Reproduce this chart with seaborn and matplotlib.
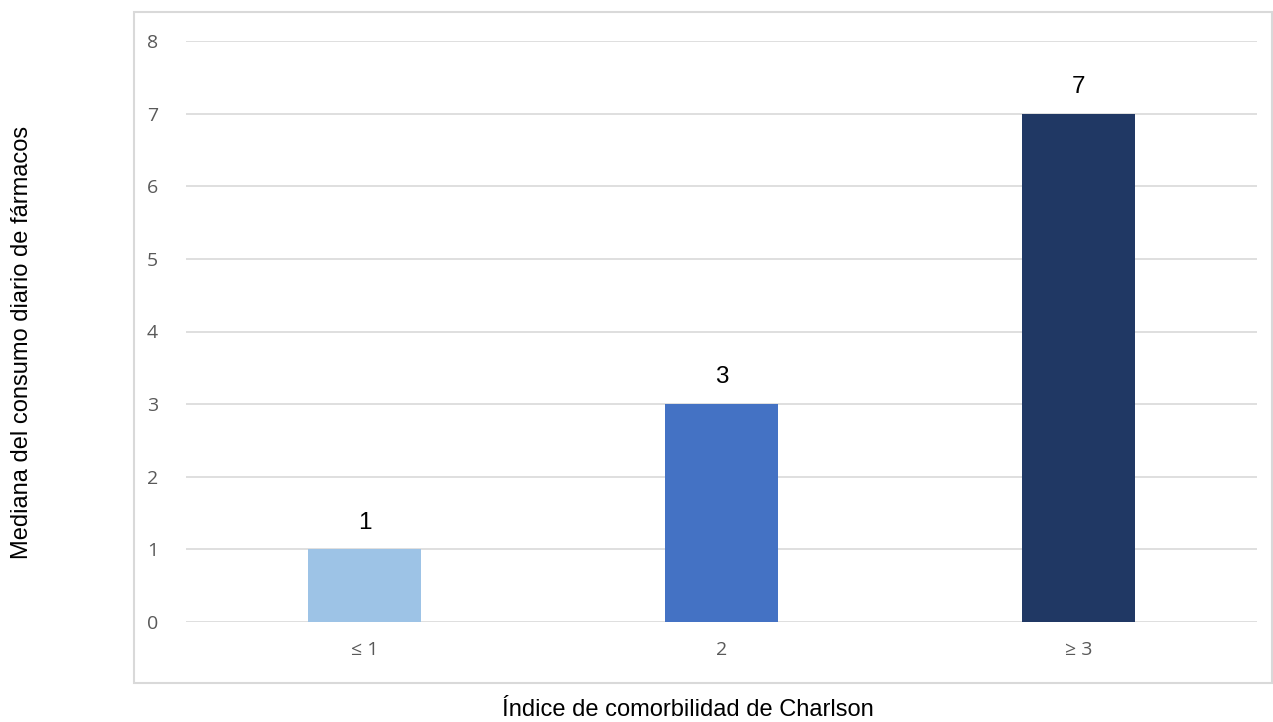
import matplotlib
matplotlib.use("Agg")
import matplotlib.pyplot as plt
import matplotlib.patheffects as pe
from matplotlib.patches import Rectangle
import seaborn as sns
import pandas as pd

categorias = ["≤ 1", "2", "≥ 3"]
medianas = [1, 3, 7]
colores = ["#9DC3E6", "#4472C4", "#203864"]
ticks_y = [0, 1, 2, 3, 4, 5, 6, 7, 8]

sns.set_theme(style="white")
plt.rcParams["font.family"] = ["Liberation Sans", "DejaVu Sans"]

W, H = 1273, 722
fig = plt.figure(figsize=(W / 100, H / 100), dpi=100)
ax = fig.add_axes([186 / W, 1 - 622 / H, (1257 - 186) / W, (622 - 41) / H])

df = pd.DataFrame({"cat": categorias, "val": medianas})
sns.barplot(data=df, x="cat", y="val", hue="cat", palette=colores,
            width=0.314, legend=False, ax=ax, zorder=3, saturation=1,
            linewidth=0, edgecolor="none")

# soft shadow on the tallest bar
bars = ax.patches
bars[-1].set_path_effects([
    pe.SimplePatchShadow(offset=(0, -1.5), shadow_rgbFace="#000000", alpha=0.35),
    pe.Normal(),
])

ax.set_ylim(0, 8)
ax.set_xlim(-0.5, 2.5)
ax.set_yticks(ticks_y)
ax.yaxis.grid(True, color="#D9D9D9", linewidth=1.2, zorder=0)
ax.xaxis.grid(False)
for s in ax.spines.values():
    s.set_visible(False)
ax.tick_params(axis="both", length=0, labelsize=14, colors="#595959")
for lab in ax.get_yticklabels() + ax.get_xticklabels():
    lab.set_family(["Open Sans", "DejaVu Sans"])
ax.tick_params(axis="y", pad=20)
ax.tick_params(axis="x", pad=14)
ax.set_xlabel("")
ax.set_ylabel("")

for i, v in enumerate(medianas):
    ax.annotate(str(v), (i, v), xytext=(0, 15), textcoords="offset points",
                ha="center", va="baseline", fontsize=17.5, color="black")

# outer chart border
fig.patches.append(Rectangle((134 / W, 1 - 683 / H), (1272 - 134) / W, (683 - 12) / H,
                             transform=fig.transFigure, fill=False,
                             edgecolor="#D9D9D9", linewidth=1.5, zorder=0))

fig.text(22 / W, 1 - 342 / H, "Mediana del consumo diario de fármacos",
         rotation=90, ha="center", va="center", fontsize=17, color="black")
fig.text(688 / W, 1 - 721 / H, "Índice de comorbilidad de Charlson",
         ha="center", va="bottom", fontsize=17, color="black")

fig.savefig("out.png", dpi=100)
